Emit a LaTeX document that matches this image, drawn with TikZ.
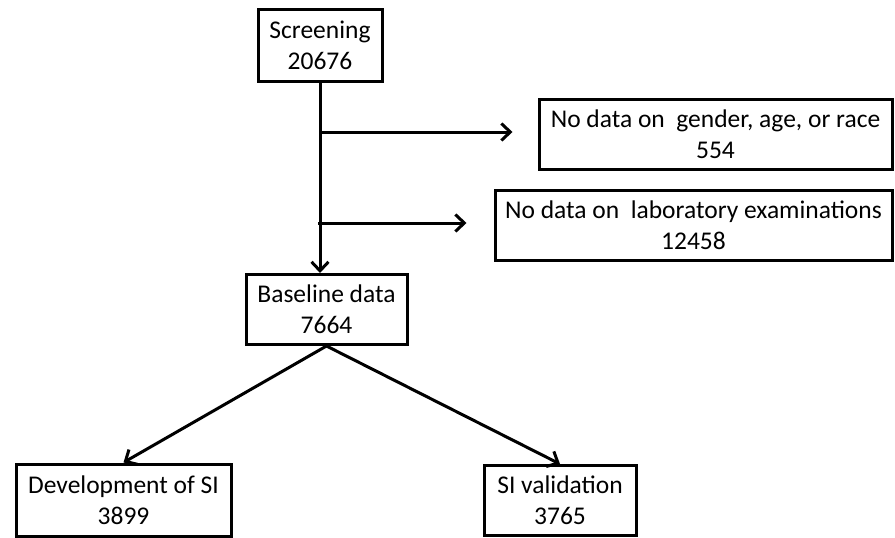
\documentclass[tikz,border=0pt]{standalone}
\usepackage{fontspec}
\setmainfont{Carlito}
\usetikzlibrary{arrows.meta, positioning, calc}
\tikzset{
  box/.style={draw=black, line width=3pt, align=center, inner sep=0pt,
              fill=white, font=\fontsize{25.5}{31}\selectfont},
  flow/.style={-{Straight Barb[length=9pt, width=17pt, line width=3pt]},
               line width=3pt, draw=black},
}

\begin{document}
\begin{tikzpicture}[x=1pt, y=-1pt]
  \useasboundingbox (0,0) rectangle (895,538);
  \node[box, minimum width=124pt, minimum height=72pt] (screen) at (320,45) {Screening\\ 20676};
  \node[box, minimum width=353pt, minimum height=70pt] (nodemo) at (715.5,134) {No data on~ gender, age, or race\\ 554};
  \node[box, minimum width=397pt, minimum height=70pt] (nolab) at (693.5,225) {No data on~ laboratory examinations\\ 12458};
  \node[box, minimum width=161pt, minimum height=70pt] (base) at (326.5,309.5) {Baseline data\\ 7664};
  \node[box, minimum width=215pt, minimum height=72pt] (dev) at (123.5,500) {Development of SI\\ 3899};
  \node[box, minimum width=152pt, minimum height=70pt] (val) at (560,500.5) {SI validation\\ 3765};

  \coordinate (b1) at (320,132);
  \coordinate (b2) at (318,223);

  \draw[flow] (screen.south) -- (screen.south |- base.north);
  \draw[flow, shorten >=25pt] (b1) -- (b1 -| nodemo.west);
  \draw[flow, shorten >=27pt] (b2) -- (b2 -| nolab.west);
  \draw[flow] (base.south) -- (dev.north);
  \draw[flow] (base.south) -- (val.north);
\end{tikzpicture}
\end{document}
